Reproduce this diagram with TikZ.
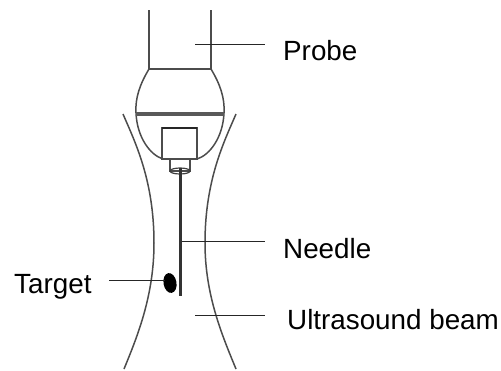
\documentclass[tikz,border=0pt]{standalone}
\usepackage{fontspec}
\setmainfont{Liberation Sans}
\usetikzlibrary{shapes.geometric}
\tikzstyle{lbl}=[font=\fontsize{27.8}{30}\selectfont, inner sep=0, anchor=base west]
\tikzstyle{ldr}=[line width=1pt, black!85]
\tikzstyle{wall}=[line width=1.5pt, black!70]
\begin{document}
\begin{tikzpicture}[x=1pt, y=-1pt]
\useasboundingbox (0,0) rectangle (501,370);
\node at (283,60)[lbl](probe){Probe};
\node at (283,258)[lbl](needle){Needle};
\node at (287,329)[lbl](beam){Ultrasound beam};
\node at (14,293)[lbl](target){Target};
\coordinate (p) at (195,44);
\coordinate (pe) at (265,44);
\coordinate (n) at (182,241);
\coordinate (ne) at (265,241);
\coordinate (b) at (195,315);
\coordinate (be) at (265,315);
\coordinate (t) at (165,280);
\coordinate (te) at (109,280);
% housing
\draw[wall] (149,10)--(149,69)--(211,69)--(211,10);
\draw[wall] (149,69) .. controls (140,84) and (135,98) .. (136,113) .. controls (137,137) and (150,155) .. (163,159);
\draw[wall] (211,69) .. controls (220,84) and (225,98) .. (224,113) .. controls (223,137) and (210,155) .. (197,159);
\draw[line width=3.2pt, black!65] (136,114)--(224,114);
\draw[wall] (162,128) rectangle (197,159);
\draw[line width=2pt, black!85] (162,128)--(197,128);
\draw[wall] (170,159)--(170,171)--(190,171)--(190,159);
\draw[wall] (163,159)--(197,159);
\draw[line width=1.2pt, black!75] (180,171) ellipse (10 and 3);
% beam
\draw[wall] (123,114) .. controls (135,142) and (154,180) .. (154,243) .. controls (154,295) and (138,335) .. (124,369);
\draw[wall] (236,114) .. controls (224,142) and (205,180) .. (205,243) .. controls (205,295) and (222,335) .. (236,369);
% needle and target
\draw[line width=3pt, black!80] (180,168)--(180,296);
\node at (170,283)[shape=ellipse, fill=black, minimum width=13pt, minimum height=20pt, inner sep=0, rotate=10](spot){};
% leaders
\draw[ldr] (p)--(pe);
\draw[ldr] (n)--(ne);
\draw[ldr] (b)--(be);
\draw[ldr] (t)--(te);
\end{tikzpicture}
\end{document}
